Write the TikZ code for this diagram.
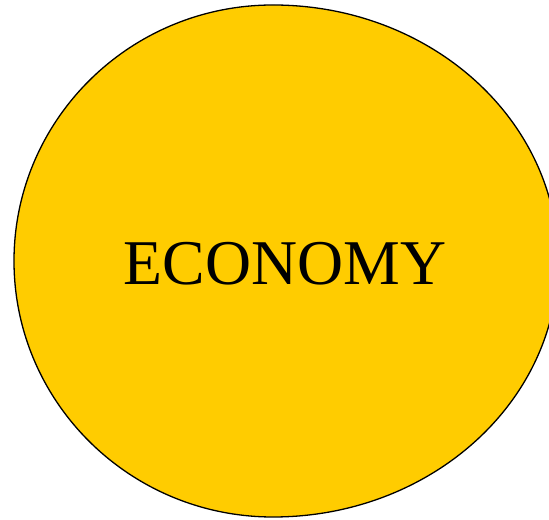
\documentclass[tikz,border=0pt]{standalone}
\usepackage{fontspec}
\setmainfont{Liberation Serif}
\definecolor{eggfill}{HTML}{FFCC00}
\tikzset{egg/.style={fill=eggfill, draw=black, line width=1.3bp}}
\begin{document}
\begin{tikzpicture}[x=1bp,y=1bp]
\useasboundingbox (0,0) rectangle (549,520);
\clip (0,0) rectangle (549,520);
\draw[egg] (273,515) arc[start angle=90, end angle=-90, x radius=285, y radius=256]
  arc[start angle=270, end angle=90, x radius=259, y radius=256] -- cycle;
\node[font=\fontsize{64}{64}\selectfont, inner sep=0pt] (label) at (285,256) {ECONOMY};
\end{tikzpicture}
\end{document}
